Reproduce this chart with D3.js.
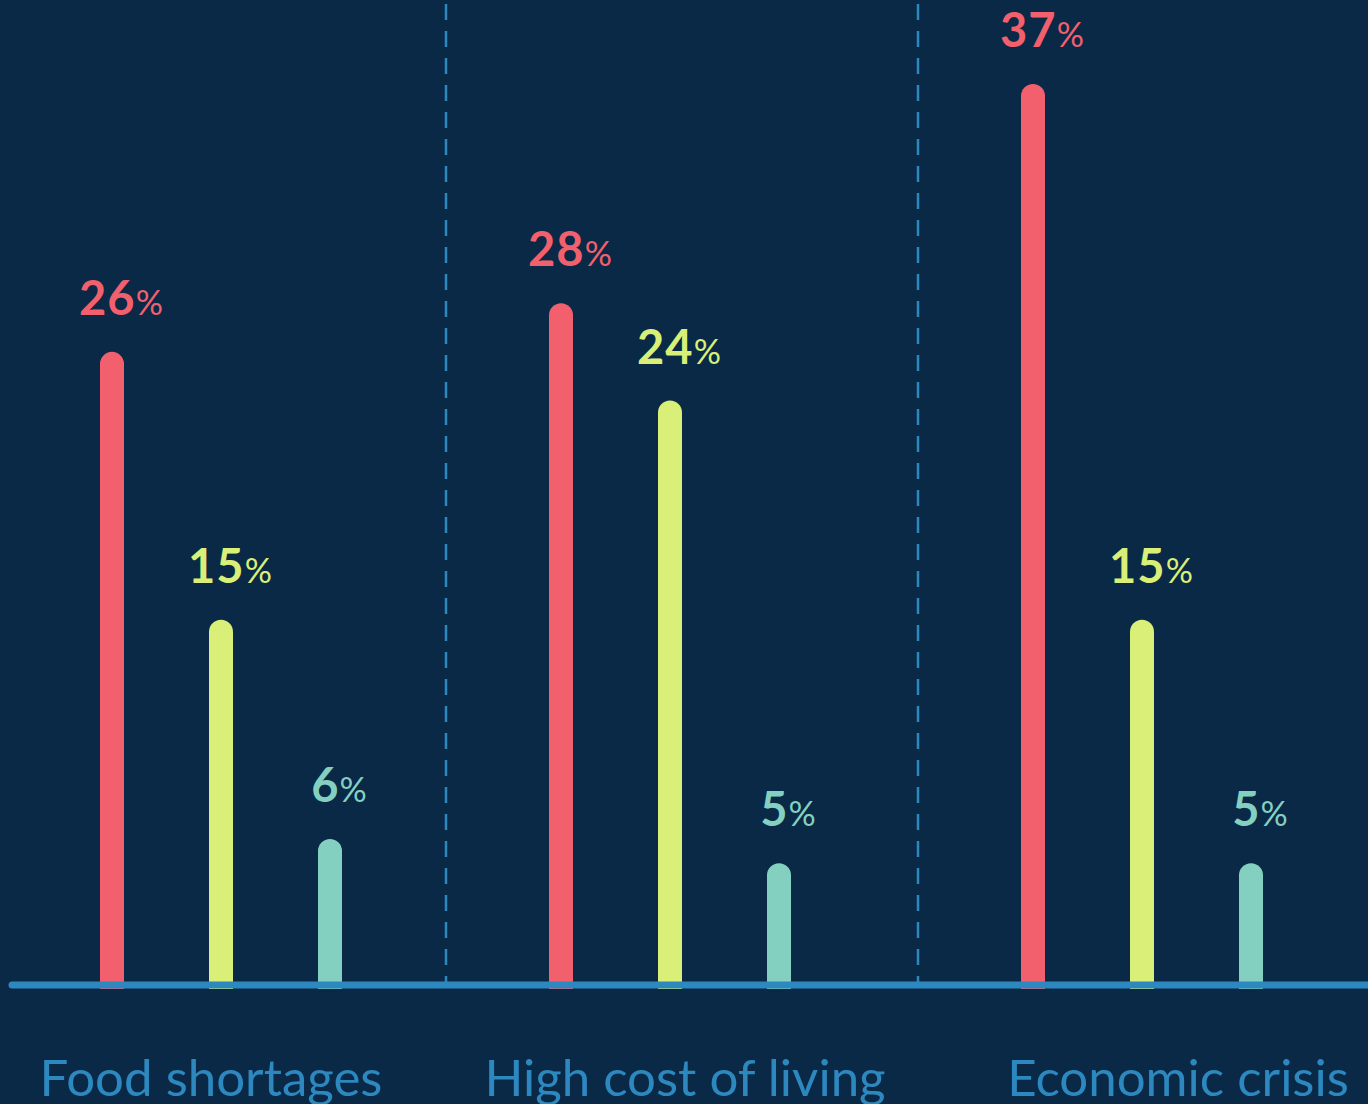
<!DOCTYPE html>
<html><head><meta charset="utf-8">
<script src="https://cdn.jsdelivr.net/npm/d3@7"></script>
<style>html,body{margin:0;padding:0;background:#0a2946;}svg{display:block;}</style>
</head><body>
<svg id="c" width="1368" height="1104"></svg>
<script>
const categories = ["Food shortages", "High cost of living", "Economic crisis"];
const seriesNames = ["A", "B", "C"];
const seriesA = [26, 28, 37];
const seriesB = [15, 24, 15];
const seriesC = [6, 5, 5];
const colors = ["#f2606e", "#d9ef78", "#84d0c0"];

const W = 1368, H = 1104, base = 985;
const svg = d3.select("#c");
svg.append("rect").attr("width", W).attr("height", H).attr("fill", "#0a2946");

const x = d3.scaleOrdinal().domain(categories).range([221, 670, 1142]);
const xs = d3.scalePoint().domain(seriesNames).range([-109, 109]);
const y = d3.scaleLinear().domain([0, 37]).range([base, 84]);

const data = [];
categories.forEach((c, i) => {
  [seriesA, seriesB, seriesC].forEach((s, j) => {
    data.push({cat: c, ser: seriesNames[j], v: s[i], color: colors[j]});
  });
});

// dividers
const divs = [446, 918];
svg.selectAll("line.div").data(divs).enter().append("line")
  .attr("x1", d => d).attr("x2", d => d).attr("y1", 4).attr("y2", base)
  .attr("stroke", "#2c88bf").attr("stroke-width", 2.5).attr("stroke-dasharray", "16 11");

// bars
const bw = 24, r = 12;
svg.selectAll("path.bar").data(data).enter().append("path")
  .attr("fill", d => d.color)
  .attr("d", d => {
    const cx = x(d.cat) + xs(d.ser), top = y(d.v), bot = base + 4;
    const l = cx - bw / 2, rr = cx + bw / 2;
    return `M${l},${bot} L${l},${top + r} A${r},${r} 0 0 1 ${rr},${top + r} L${rr},${bot} Z`;
  });

// axis line
svg.append("line").attr("x1", 12).attr("x2", W + 10).attr("y1", base).attr("y2", base)
  .attr("stroke", "#2c88bf").attr("stroke-width", 7).attr("stroke-linecap", "round");

// value labels
const lab = svg.selectAll("text.val").data(data).enter().append("text")
  .attr("x", d => x(d.cat) + xs(d.ser) + 9)
  .attr("y", d => y(d.v) - 37)
  .attr("text-anchor", "middle")
  .attr("fill", d => d.color)
  .attr("font-family", "Lato, 'Open Sans', sans-serif")
  .attr("font-weight", 700);
lab.append("tspan").attr("font-size", 47).attr("letter-spacing", 1).text(d => d.v);
lab.append("tspan").attr("font-size", 34).attr("font-weight", 400).text("%");

// category labels
svg.selectAll("text.cat").data(categories).enter().append("text")
  .attr("x", (d, i) => x(d) + [-10, 15, 36][i])
  .attr("y", 1096)
  .attr("text-anchor", "middle")
  .attr("fill", "#2c88bf")
  .attr("font-family", "Lato, 'Open Sans', sans-serif")
  .attr("font-weight", 400)
  .attr("font-size", 51)
  .text(d => d);
</script>
</body></html>
